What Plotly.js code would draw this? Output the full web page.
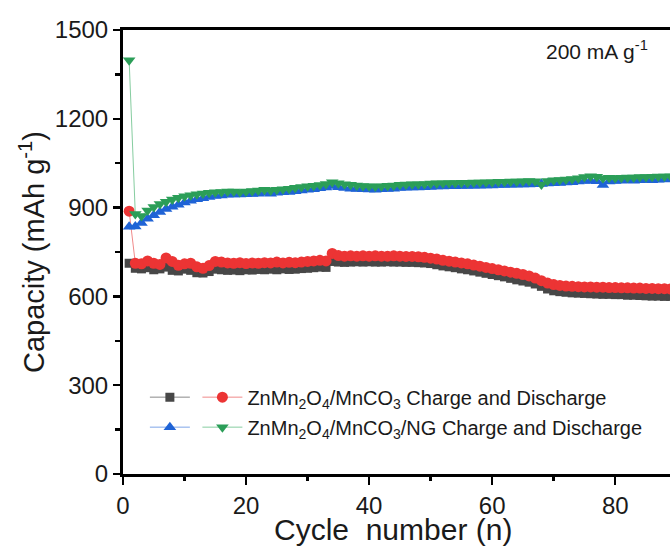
<!DOCTYPE html>
<html>
<head>
<meta charset="utf-8">
<script src="https://cdn.plot.ly/plotly-3.0.1.min.js"></script>
<style>html,body{margin:0;padding:0;background:#fff;}#chart{width:670px;height:552px;}</style>
</head>
<body>
<div id="chart"></div>
<script>
// Cycle numbers visible in the reference (1..89)
const cycles = Array.from({length: 89}, (_, i) => i + 1);

// ZnMn2O4/MnCO3 – charge (grey squares)
const znCharge = [712,695,693,697,690,693,699,688,686,692,688,680,679,684,692,690,688,689,687,690,
  689,691,690,692,690,693,691,692,694,695,697,699,698,718,716,715,716,717,716,717,
  716,716,717,716,716,715,715,714,713,711,707,703,700,697,693,690,686,682,678,674,
  670,666,661,656,652,648,642,634,625,619,616,614,612,611,610,609,608,607,607,606,
  606,604,604,603,602,601,601,600,600];

// ZnMn2O4/MnCO3 – discharge (red circles)
const znDischarge = [888,712,710,720,712,708,730,718,705,710,712,700,695,704,718,716,713,712,714,711,
  713,712,714,713,716,713,715,714,716,718,720,722,720,745,738,736,737,736,737,736,
  737,736,736,737,736,735,735,734,732,729,726,722,719,716,713,710,706,702,698,694,
  690,686,682,678,674,669,662,653,645,640,637,635,634,633,632,632,631,631,630,630,
  629,629,628,628,627,627,626,626,625];

// ZnMn2O4/MnCO3/NG – charge (blue triangles)
const ngCharge = [835,836,848,862,874,885,895,903,910,917,923,928,932,936,939,941,943,944,944,945,
  946,947,949,947,950,952,953,955,958,960,962,965,968,973,969,966,964,963,962,961,
  960,962,963,964,966,967,968,968,969,970,971,971,972,972,973,973,974,974,975,975,
  976,976,977,977,978,978,979,980,981,982,983,985,986,988,990,991,989,976,988,990,
  991,992,991,992,993,992,994,995,996];

// ZnMn2O4/MnCO3/NG – discharge (green inverted triangles)
const ngDischarge = [1398,878,872,890,902,912,920,927,933,938,942,945,948,950,952,953,954,954,953,954,
  956,958,960,958,960,962,964,967,970,972,974,976,980,986,982,979,977,975,973,972,
  971,972,974,975,977,978,979,979,980,981,982,982,983,983,984,984,985,985,986,986,
  987,987,988,988,989,990,989,978,990,992,993,995,997,999,1003,1006,1004,999,1001,1000,
  1001,1002,1002,1003,1003,1004,1005,1005,1006];

const legendNames = [
  'ZnMn<sub>2</sub>O<sub>4</sub>/MnCO<sub>3</sub> Charge and Discharge',
  'ZnMn<sub>2</sub>O<sub>4</sub>/MnCO<sub>3</sub>/NG Charge and Discharge'
];

const xTitle = 'Cycle\u00a0\u00a0number (n)';
const yTitle = 'Capacity (mAh g<sup>-1</sup>)';
const rateLabel = '200 mA g<sup>-1</sup>';

const FONT = 'Liberation Sans, Arial, sans-serif';

function tr(y, name, color, lineColor, symbol, size, legend, group) {
  return {
    x: cycles, y: y, name: name, type: 'scatter', mode: 'lines+markers',
    line: {color: lineColor, width: 1},
    marker: {color: color, symbol: symbol, size: size, line: {width: 0}},
    legend: legend, legendgroup: group, cliponaxis: true
  };
}

const data = [
  tr(znCharge, '', '#474747', '#8a8a8a', 'square', 9, 'legend', 'g1'),
  tr(znDischarge, legendNames[0], '#ec3434', '#f08a8a', 'circle', 11, 'legend2', 'g2'),
  tr(ngCharge, '', '#1f63d6', '#7ea6e8', 'triangle-up', 11, 'legend', 'g3'),
  tr(ngDischarge, legendNames[1], '#2b9e58', '#86cda0', 'triangle-down', 11, 'legend2', 'g4')
];

const legendCommon = {
  bgcolor: 'rgba(0,0,0,0)', borderwidth: 0,
  font: {family: FONT, size: 20, color: '#1a1a1a'},
  orientation: 'v', xanchor: 'left', yanchor: 'top',
  traceorder: 'grouped', tracegroupgap: 1, itemwidth: 40
};

const layout = {
  width: 670, height: 552,
  margin: {l: 123, r: 0, t: 30, b: 78},
  paper_bgcolor: '#ffffff', plot_bgcolor: '#ffffff',
  font: {family: FONT, color: '#1a1a1a'},
  showlegend: true,
  legend: Object.assign({}, legendCommon, {x: 0.04, y: 0.217}),
  legend2: Object.assign({}, legendCommon, {x: 0.136, y: 0.217}),
  xaxis: {
    range: [0, 88.9], dtick: 20, tick0: 0,
    showline: true, linewidth: 3, linecolor: '#000', mirror: true,
    ticks: 'outside', ticklen: 8, tickwidth: 2.5, tickcolor: '#000',
    minor: {dtick: 10, ticks: 'outside', ticklen: 4, tickwidth: 2.5, tickcolor: '#000'},
    showgrid: false, zeroline: false,
    tickfont: {family: FONT, size: 24, color: '#1a1a1a'}
  },
  yaxis: {
    range: [0, 1500], dtick: 300, tick0: 0,
    showline: true, linewidth: 3, linecolor: '#000', mirror: false,
    ticks: 'outside', ticklen: 7, tickwidth: 2.5, tickcolor: '#000',
    minor: {dtick: 150, ticks: 'outside', ticklen: 5, tickwidth: 2.5, tickcolor: '#000'},
    showgrid: false, zeroline: false,
    tickfont: {family: FONT, size: 24, color: '#1a1a1a'},
    title: {text: yTitle, font: {family: FONT, size: 29, color: '#1a1a1a'}, standoff: 2}
  },
  annotations: [{
    xref: 'paper', yref: 'paper', x: 0.866, y: 0.955, xanchor: 'center', yanchor: 'middle',
    text: rateLabel, showarrow: false,
    font: {family: FONT, size: 21, color: '#1a1a1a'}
  }, {
    xref: 'paper', yref: 'paper', x: 0.494, y: -0.126, xanchor: 'center', yanchor: 'middle',
    text: xTitle, showarrow: false, borderpad: 0,
    font: {family: FONT, size: 30, color: '#1a1a1a'}
  }]
};

Plotly.newPlot('chart', data, layout, {displayModeBar: false, staticPlot: true});
</script>
</body>
</html>
